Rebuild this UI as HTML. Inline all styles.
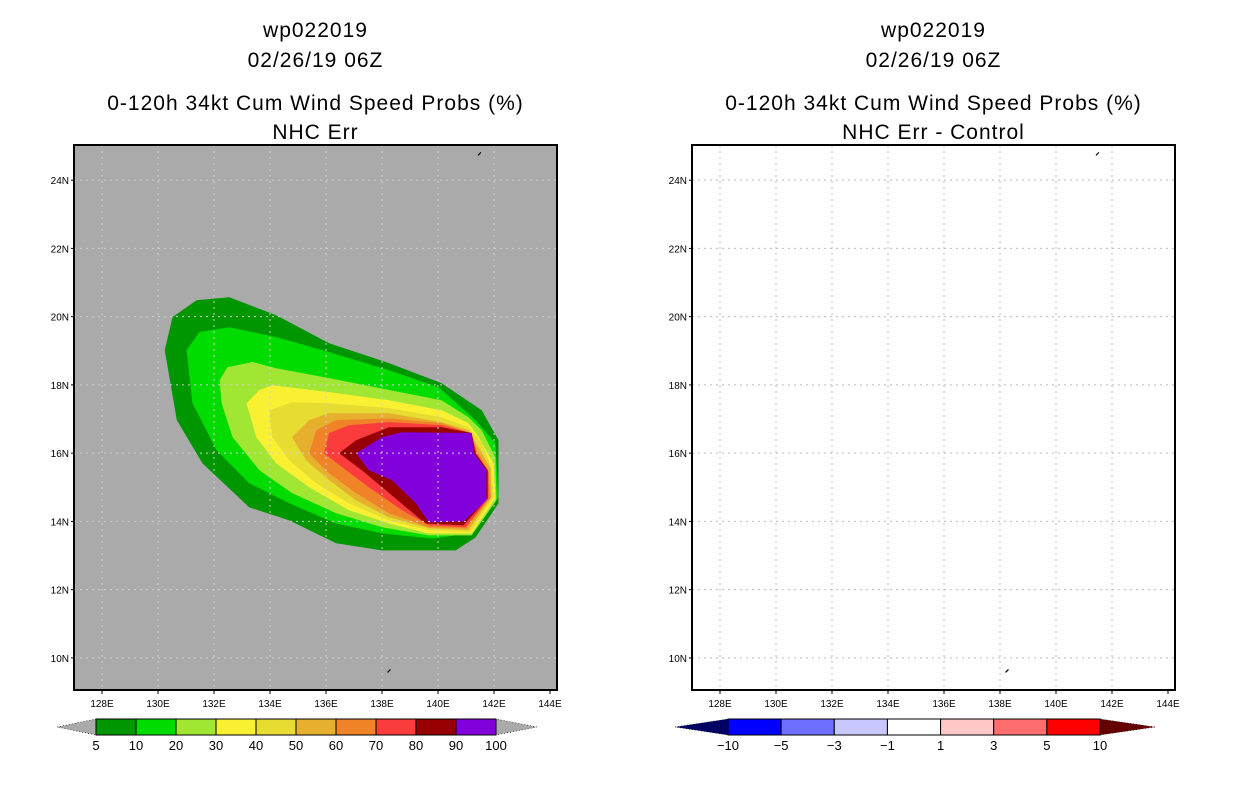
<!DOCTYPE html>
<html><head><meta charset="utf-8"><style>
body{margin:0;background:#fff;width:1236px;height:800px;overflow:hidden}
svg{display:block}
text{font-family:"Liberation Sans",sans-serif}
.t{font-size:21px;letter-spacing:1px}
.k{font-size:10px}
.c{font-size:13px}
</style></head><body>
<svg id="s" width="1236" height="800"></svg>
<script>
const lonTicks=[128,130,132,134,136,138,140,142,144];
const latTicks=[10,12,14,16,18,20,22,24];
const probLevels=['5','10','20','30','40','50','60','70','80','90','100'];
const probColors=['#009600','#00dc00','#a0e632','#faf032','#e6dc32','#e6af2d','#f08228','#fa3c3c','#960000','#8200dc'];
const diffLevels=['-10','-5','-3','-1','1','3','5','10'];
const diffColors=['#0000ff','#6e6eff','#c8c8ff','#ffffff','#ffc8c8','#ff6e6e','#ff0000'];
// contour polygons (lon,lat) for levels 5..90
const c5=[[130.24,19.02],[130.52,19.99],[131.38,20.48],[132.55,20.57],[134.22,20.04],[136.11,19.22],[138.25,18.64],[140.13,18.05],[141.56,17.26],[142.16,16.38],[142.16,14.53],[141.34,13.53],[140.63,13.15],[138.0,13.15],[136.36,13.36],[134.69,14.03],[133.26,14.41],[131.59,15.7],[130.67,16.97]];
const c10=[[131.02,19.02],[131.48,19.55],[132.55,19.69],[134.22,19.4],[136.11,18.96],[138.25,18.43],[140.02,17.93],[141.34,16.97],[142.05,16.29],[142.16,14.71],[141.2,13.65],[139.78,13.5],[138.0,13.65],[136.36,13.94],[134.69,14.53],[133.26,15.12],[132.09,16.09],[131.23,17.47]];
const c20=[[132.2,18.14],[132.48,18.52],[133.37,18.67],[134.22,18.49],[136.11,18.2],[138.25,17.85],[140.13,17.55],[141.09,17.05],[141.56,16.67],[142.05,15.88],[142.09,14.62],[141.2,13.59],[139.67,13.59],[138.0,13.83],[136.36,14.24],[134.79,14.83],[133.62,15.5],[132.66,16.47],[132.27,17.46]];
const c30=[[133.16,17.46],[133.62,17.85],[134.08,17.99],[136.11,17.79],[138.25,17.55],[140.13,17.26],[141.09,16.88],[141.45,16.47],[141.98,15.7],[142.05,14.68],[141.2,13.65],[139.67,13.65],[138.25,13.94],[136.82,14.33],[135.4,15.0],[134.22,15.7],[133.51,16.47]];
const c40=[[133.98,17.26],[134.79,17.49],[136.11,17.46],[138.25,17.32],[140.13,17.05],[141.09,16.76],[141.56,16.29],[141.91,15.59],[141.98,14.71],[141.16,13.68],[139.67,13.74],[138.25,14.03],[136.82,14.53],[135.65,15.12],[134.69,15.79],[134.08,16.47]];
const c50=[[134.79,16.47],[135.4,16.97],[136.11,17.17],[138.25,17.17],[140.13,16.91],[141.09,16.67],[141.45,16.17],[141.88,15.56],[141.91,14.71],[141.09,13.74],[139.67,13.8],[138.25,14.12],[137.07,14.62],[136.11,15.21],[135.29,15.79]];
const c60=[[135.4,16.0],[135.65,16.67],[136.36,16.97],[138.25,17.02],[140.13,16.88],[141.09,16.61],[141.38,16.09],[141.8,15.5],[141.88,14.71],[141.02,13.8],[139.67,13.83],[138.25,14.24],[137.07,14.83],[136.11,15.41]];
const c70=[[135.93,16.0],[136.11,16.59],[136.82,16.82],[138.25,16.91],[140.13,16.82],[141.2,16.59],[141.38,16.0],[141.8,15.44],[141.8,14.68],[140.99,13.83],[139.67,13.89],[138.71,14.33],[137.53,15.0],[136.72,15.5]];
const c80=[[136.47,16.0],[137.07,16.38],[138.25,16.76],[140.13,16.76],[141.2,16.59],[141.34,16.0],[141.77,15.5],[141.77,14.68],[140.91,13.89],[139.56,13.94],[138.85,14.42],[138.14,14.91],[137.28,15.5]];
const c90=[[137.07,16.0],[138.0,16.47],[138.71,16.61],[141.2,16.59],[141.27,16.0],[141.73,15.5],[141.73,14.62],[140.91,14.0],[139.67,13.97],[139.21,14.53],[138.35,15.21],[137.53,15.5]];
const contours=[c5,c10,c20,c30,c40,c50,c60,c70,c80,c90];
const islands=[[141.48,24.77],[138.25,9.62]];

const NS='http://www.w3.org/2000/svg';
const svg=document.getElementById('s');
function el(tag,attrs,parent,txt){const e=document.createElementNS(NS,tag);for(const k in attrs)e.setAttribute(k,attrs[k]);if(txt!==undefined)e.textContent=txt;(parent||svg).appendChild(e);return e;}
const LON0=127,LON1=144.25,LAT0=9.06,LAT1=25.03,W=483,H=545,Y0=145;
function panel(x0,left){
  const X=lon=>x0+(lon-LON0)/(LON1-LON0)*W;
  const Y=lat=>Y0+(LAT1-lat)/(LAT1-LAT0)*H;
  const g=el('g',{});
  
  
  el('rect',{x:x0,y:Y0,width:W,height:H,fill:left?'#aaaaaa':'#ffffff'},g);
  if(left){
    contours.forEach((c,i)=>{
      const p=el('polygon',{points:c.map(q=>X(q[0]).toFixed(1)+','+Y(q[1]).toFixed(1)).join(' '),fill:probColors[i]},g);
      
      
    });
  }
  const gc=left?'#cfcfcf':'#bbbbbb';
  lonTicks.slice(0,-1).forEach(l=>el('line',{x1:X(l),x2:X(l),y1:Y0,y2:Y0+H,stroke:gc,'stroke-dasharray':'2,4','stroke-width':1},g));
  latTicks.forEach(l=>el('line',{x1:x0,x2:x0+W,y1:Y(l),y2:Y(l),stroke:gc,'stroke-dasharray':'2,4','stroke-width':1},g));
  islands.forEach(q=>el('path',{d:`M${X(q[0])-1.5},${Y(q[1])+1.5} l3,-3`,stroke:'#000','stroke-width':1.2},g));
  el('rect',{x:x0,y:Y0,width:W,height:H,fill:'none',stroke:'#000','stroke-width':2},g);
  lonTicks.forEach(l=>{el('line',{x1:X(l),x2:X(l),y1:Y0+H,y2:Y0+H+4,stroke:'#000'},g);
    const t=el('text',{x:X(l),y:Y0+H+17,'text-anchor':'middle',class:'k'},g,l+'E');
    });
  latTicks.forEach(l=>{el('line',{x1:x0-3,x2:x0,y1:Y(l),y2:Y(l),stroke:'#000'},g);
    const t=el('text',{x:x0-5,y:Y(l)+4,'text-anchor':'end',class:'k'},g,l+'N');
    });
  const cx=x0+W/2;
  const titles=['wp022019','02/26/19 06Z','0-120h 34kt Cum Wind Speed Probs (%)',left?'NHC Err':'NHC Err - Control'];
  [37,67,110,139].forEach((y,i)=>{const t=el('text',{x:cx,y:y,'text-anchor':'middle',class:'t'},g,titles[i]);
    });
}
panel(74,true);panel(692,false);

function colorbar(x0,x1,tl,tr,cols,labels,lcol,rcol,name){
  const g=el('g',{});
  
  
  const y0=719,y1=735,ym=727,n=cols.length,w=(x1-x0)/n;
  el('polygon',{points:`${tl},${ym} ${x0},${y0} ${x0},${y1}`,fill:lcol,stroke:'#000','stroke-dasharray':'1,2','stroke-width':.6},g);
  el('polygon',{points:`${tr},${ym} ${x1},${y0} ${x1},${y1}`,fill:rcol,stroke:'#000','stroke-dasharray':'1,2','stroke-width':.6},g);
  cols.forEach((c,i)=>el('rect',{x:x0+i*w,y:y0,width:w,height:y1-y0,fill:c,stroke:'#000','stroke-width':1},g));
  labels.forEach((l,i)=>el('text',{x:x0+i*w,y:750,'text-anchor':'middle',class:'c'},g,l.replace('-','\u2212')));
}
colorbar(96,496,57,537,probColors,probLevels,'#aaaaaa','#aaaaaa','probability-colorbar');
colorbar(728,1100,675,1155,diffColors,diffLevels,'#000064','#640000','difference-colorbar');
</script>
</body></html>
